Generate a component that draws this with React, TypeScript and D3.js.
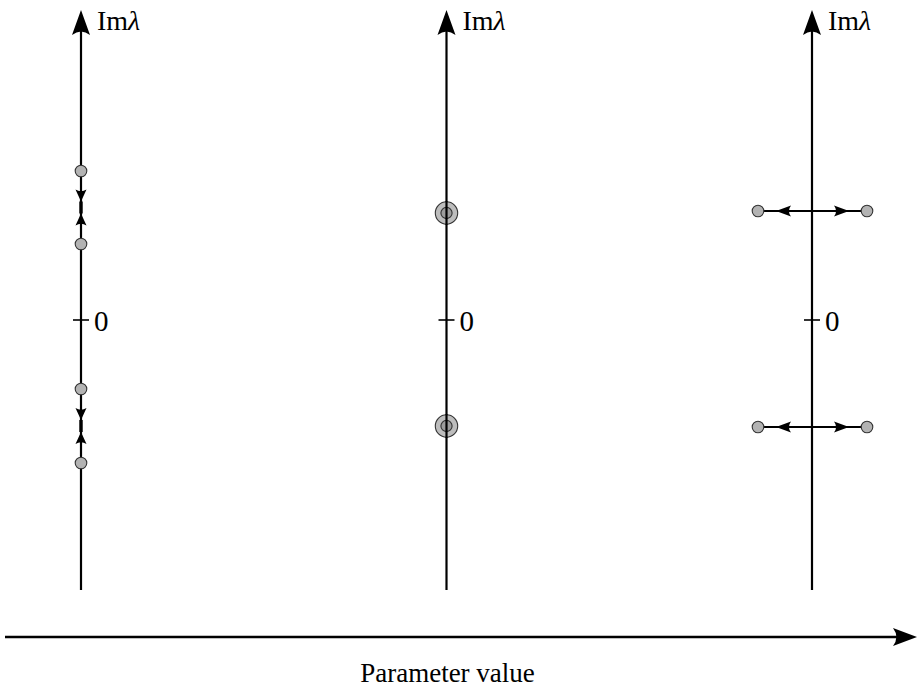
import React from 'react'
import * as d3 from 'd3'

// three parameter stages, one column each
const stages = ['before', 'critical', 'after']

// eigenvalues per stage (Re, Im)
const stageBefore = [
  { re: 0, im: 1.49 },
  { re: 0, im: 0.76 },
  { re: 0, im: -0.69 },
  { re: 0, im: -1.43 },
]
const stageCritical = [
  { re: 0, im: 1.07 },
  { re: 0, im: -1.06 },
]
const stageAfter = [
  { re: -0.54, im: 1.09 },
  { re: 0.55, im: 1.09 },
  { re: -0.54, im: -1.07 },
  { re: 0.55, im: -1.07 },
]

// motion of eigenvalues: [from, to] index pairs
const beforeMerges = [[0, 1], [3, 2]]
const afterSplits = [[0, 1], [2, 3]]

const W = 917
const H = 691
const axisLabel = 'Parameter value'
const zeroLabel = '0'

// concave (latex-like) arrowhead pointing in +x, tip at origin
function headPath(len: number, half: number) {
  return `M0,0 L${-len},${-half} Q${-len * 0.72},0 ${-len},${half} Z`
}

function Head({ x, y, angle, len, half }: { x: number; y: number; angle: number; len: number; half: number }) {
  return <path d={headPath(len, half)} transform={`translate(${x},${y}) rotate(${angle})`} fill="#000" />
}

export default function App() {
  const xStage = d3.scalePoint<string>().domain(stages).range([81, 812])
  const y = d3.scaleLinear().domain([0, 1]).range([320, 220])
  const re = d3.scaleLinear().domain([0, 1]).range([0, 100])

  const axisTop = 10
  const axisBottom = 590
  const font = "'Liberation Serif', 'DejaVu Serif', serif"

  const x0 = xStage('before')!
  const x1 = xStage('critical')!
  const x2 = xStage('after')!

  return (
    <svg width={W} height={H} style={{ position: 'absolute', left: 0, top: 0 }} fontFamily={font}>
      <rect width={W} height={H} fill="#fff" />
      {stages.map(s => {
        const cx = xStage(s)!
        return (
          <g key={s}>
            <line x1={cx} x2={cx} y1={axisBottom} y2={axisTop + 14} stroke="#000" strokeWidth={2.2} />
            <Head x={cx} y={axisTop} angle={-90} len={25} half={9} />
            <line x1={cx - 8} x2={cx + 8} y1={y(0)} y2={y(0)} stroke="#000" strokeWidth={1.6} />
            <text x={cx + 13} y={y(0) + 11} fontSize={29}>{zeroLabel}</text>
            <text x={cx + 16} y={30} fontSize={28}>
              Im<tspan fontStyle="italic">λ</tspan>
            </text>
          </g>
        )
      })}

      {/* before: pairs move toward each other along Im axis */}
      {beforeMerges.map(([a, b], i) => {
        const ya = y(stageBefore[a].im)
        const yb = y(stageBefore[b].im)
        const mid = (ya + yb) / 2
        const dir = Math.sign(yb - ya)
        const gap = 6
        return (
          <g key={'bm' + i}>
            <line x1={x0} x2={x0} y1={mid - dir * gap} y2={mid + dir * gap} stroke="#000" strokeWidth={3.4} />
            <Head x={x0} y={mid - dir * gap} angle={dir > 0 ? 90 : -90} len={12} half={5.5} />
            <Head x={x0} y={mid + dir * gap} angle={dir > 0 ? -90 : 90} len={12} half={5.5} />
          </g>
        )
      })}
      {stageBefore.map((d, i) => (
        <circle key={'b' + i} cx={x0 + re(d.re)} cy={y(d.im)} r={5.8} fill="#b3b3b3" stroke="#333" strokeWidth={1.1} />
      ))}

      {/* critical: double eigenvalues */}
      {stageCritical.map((d, i) => (
        <g key={'c' + i}>
          <circle cx={x1 + re(d.re)} cy={y(d.im)} r={11.2} fill="#bdbdbd" stroke="#333" strokeWidth={1.1} />
          <circle cx={x1 + re(d.re)} cy={y(d.im)} r={5.6} fill="#9c9c9c" stroke="#333" strokeWidth={1.1} />
          <line x1={x1} x2={x1} y1={y(d.im) - 12} y2={y(d.im) + 12} stroke="#000" strokeWidth={2.2} />
        </g>
      ))}

      {/* after: pairs split off the Im axis */}
      {afterSplits.map(([a, b], i) => {
        const pa = stageAfter[a]
        const pb = stageAfter[b]
        const yy = y(pa.im)
        const xa = x2 + re(pa.re)
        const xb = x2 + re(pb.re)
        return (
          <g key={'as' + i}>
            <line x1={xa} x2={xb} y1={yy} y2={yy} stroke="#000" strokeWidth={2.2} />
            <Head x={xa + 18} y={yy} angle={180} len={15} half={5.5} />
            <Head x={xb - 18} y={yy} angle={0} len={15} half={5.5} />
          </g>
        )
      })}
      {stageAfter.map((d, i) => (
        <circle key={'a' + i} cx={x2 + re(d.re)} cy={y(d.im)} r={5.8} fill="#b3b3b3" stroke="#333" strokeWidth={1.1} />
      ))}

      {/* parameter axis */}
      <line x1={5} x2={W - 14} y1={637} y2={637} stroke="#000" strokeWidth={2.4} />
      <Head x={W} y={637} angle={0} len={24} half={9} />
      <text x={x1 + 1} y={682} fontSize={27} textAnchor="middle">{axisLabel}</text>
    </svg>
  )
}
